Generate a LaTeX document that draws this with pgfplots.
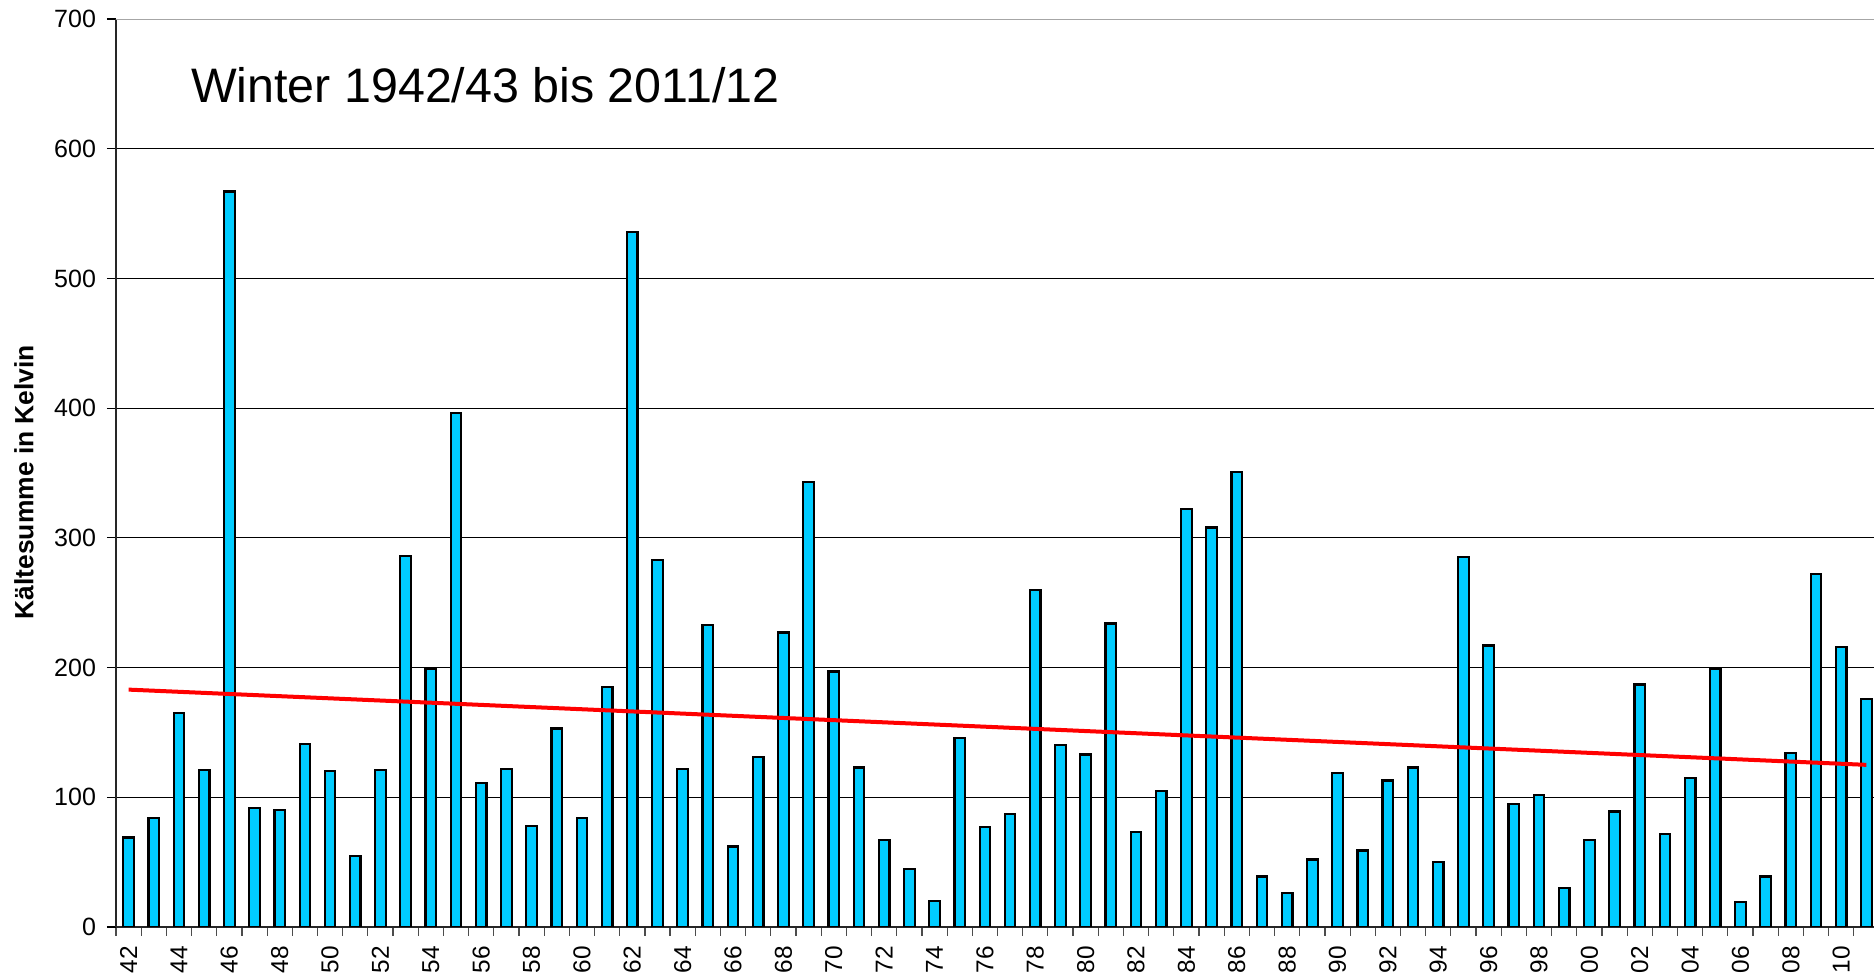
\documentclass[border=0pt]{standalone}
\usepackage{pgfplots}
\pgfplotsset{compat=1.18}
\usepackage{fontspec}
\setmainfont{Liberation Sans}
\definecolor{barcyan}{RGB}{0,204,255}
\begin{document}
\begin{tikzpicture}
\useasboundingbox (-58pt,-26pt) rectangle (879pt,463.5pt);
\begin{axis}[
  scale only axis,
  width=881.5pt, height=454pt,
  xmin=-0.5, xmax=69.5,
  ymin=0, ymax=700,
  axis x line=bottom, axis y line=left,
  axis line style={-, black!85, line width=0.9pt},
  ytick={0,100,...,700},
  ymajorgrids=true,
  major grid style={black, line width=0.5pt},
  tick align=outside,
  ytick style={black, line width=0.6pt},
  xtick style={black!70, line width=0.6pt},
  tick label style={font=\fontsize{12.5}{14}\selectfont},
  yticklabel style={font=\fontsize{12.5}{14}\selectfont, xshift=-2pt},
  /pgf/number format/assume math mode=true,
  major tick length=4.5pt,
  xtick={-0.5,0.5,...,69.5},
  xticklabels={},
  extra x ticks={0,2,...,68},
  extra x tick labels={42,44,46,48,50,52,54,56,58,60,62,64,66,68,70,72,74,76,78,80,82,84,86,88,90,92,94,96,98,00,02,04,06,08,10},
  extra x tick style={major tick length=0pt, xticklabel style={rotate=90, anchor=east, font=\fontsize{12.2}{14}\selectfont, xshift=-6pt}},
  ylabel={\bfseries Kältesumme in Kelvin},
  ylabel style={at={(axis description cs:-0.0522,0.49)}, anchor=center, font=\fontsize{13.2}{16}\selectfont},
  clip=true,
]
\addplot[ybar, bar width=0.42, fill=barcyan, draw=black, line width=1.1pt] coordinates {
(0,69) (1,84) (2,165) (3,121) (4,567) (5,92) (6,90) (7,141) (8,120) (9,55)
(10,121) (11,286) (12,199) (13,396) (14,111) (15,122) (16,78) (17,153) (18,84) (19,185)
(20,536) (21,283) (22,122) (23,233) (24,62) (25,131) (26,227) (27,343) (28,197) (29,123)
(30,67) (31,45) (32,20) (33,146) (34,77) (35,87) (36,260) (37,140) (38,133) (39,234)
(40,73) (41,105) (42,322) (43,308) (44,351) (45,39) (46,26) (47,52) (48,119) (49,59)
(50,113) (51,123) (52,50) (53,285) (54,217) (55,95) (56,102) (57,30) (58,67) (59,89)
(60,187) (61,72) (62,115) (63,199) (64,19) (65,39) (66,134) (67,272) (68,216) (69,176)
};
\addplot[red, line width=2pt] coordinates {(0,183) (69,125)};
\draw[gray!70, line width=1.2pt] (axis cs:-0.5,700) -- (axis cs:69.5,700);
\node[anchor=base west, font=\fontsize{24.2}{28}\selectfont] at (axis cs:2.2,636) {Winter 1942/43 bis 2011/12};
\end{axis}
\end{tikzpicture}
\end{document}
